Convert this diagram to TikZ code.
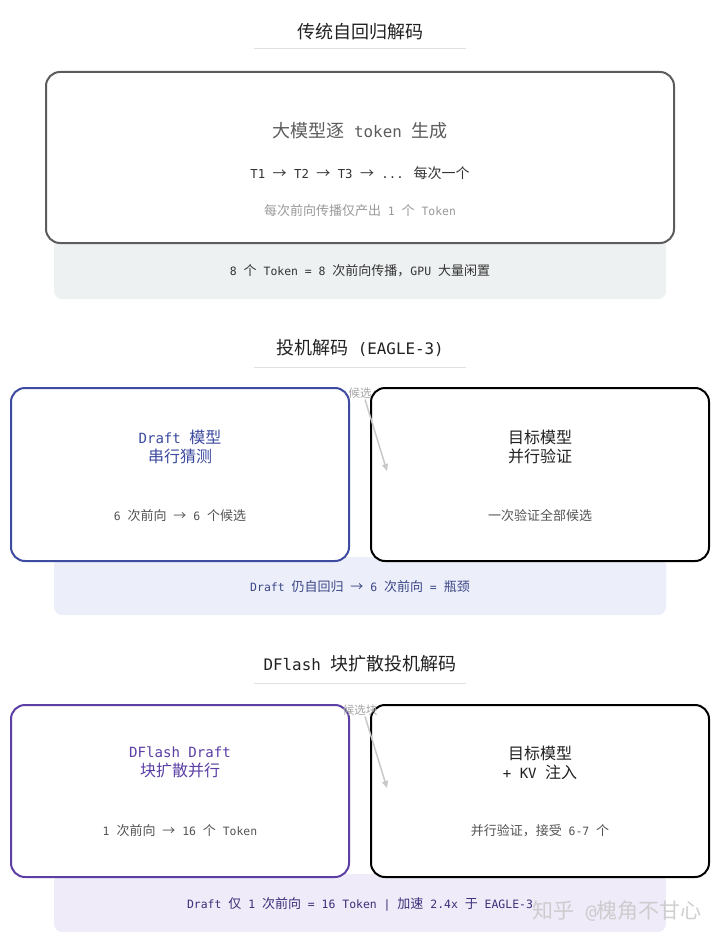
\documentclass[tikz,border=0pt]{standalone}
\usepackage{fontspec}
\usetikzlibrary{arrows.meta}
\setmainfont[Scale=0.88]{DejaVu Sans Mono}
\newfontfamily\cjkfont{Noto Sans CJK SC}
\newfontfamily\latinfont[Scale=0.88]{DejaVu Sans Mono}
% switch fonts between Han characters and Latin text
\XeTeXinterchartokenstate=1
\newXeTeXintercharclass\cjkclass
\newcount\cjkcode
\cjkcode="4E00
\loop
  \XeTeXcharclass\cjkcode=\cjkclass
  \ifnum\cjkcode<"9FFF
  \advance\cjkcode by 1
\repeat
\XeTeXcharclass"FF0C=\cjkclass
\XeTeXcharclass"3001=\cjkclass
\XeTeXcharclass"2192=\cjkclass
\XeTeXinterchartoks 0 \cjkclass = {\cjkfont}
\XeTeXinterchartoks 4095 \cjkclass = {\cjkfont}
\XeTeXinterchartoks \cjkclass 0 = {\latinfont}
\XeTeXinterchartoks \cjkclass 4095 = {\latinfont}

\definecolor{argray}{HTML}{5C5C5C}
\definecolor{draftblue}{HTML}{3D4BA0}
\definecolor{flashpurple}{HTML}{5B3FA5}
\definecolor{notegray}{HTML}{EEF1F2}
\definecolor{noteblue}{HTML}{ECEFFA}
\definecolor{notepurple}{HTML}{F0EBF8}
\definecolor{noteblueink}{HTML}{3A4685}
\definecolor{notepurpleink}{HTML}{3B2F7A}
\definecolor{rulegray}{HTML}{E0E0E0}
\definecolor{candgray}{HTML}{C8C8C8}

\tikzset{
  heading/.style={font=\fontsize{18}{22}\selectfont, text=black!87},
  rule/.style={draw=rulegray, line width=1pt},
  panel/.style={draw, line width=2pt, rounded corners=14pt, fill=white},
  note/.style={rounded corners=8pt, minimum width=612pt},
  notetext/.style={font=\fontsize{13}{16}\selectfont},
  boxtitle/.style={font=\fontsize{16}{19}\selectfont, align=center},
  boxsub/.style={font=\fontsize{13}{16}\selectfont, text=black!67},
  candlabel/.style={font=\fontsize{11.5}{14}\selectfont, text=black!35, inner sep=1pt},
  candarrow/.style={draw=candgray, line width=1.5pt, -{Triangle[length=7pt,width=6pt]}},
}

\begin{document}
\begin{tikzpicture}[x=1pt,y=-1pt]
  \useasboundingbox[fill=white] (0,0) rectangle (720,944);

  % traditional decoding
  \node[heading] (artitle) at (360,32) {传统自回归解码};
  \draw[rule] (254,49) -- (466,49);
  \node[note, fill=notegray, minimum height=70pt] (arnote) at (360,264) {};
  \node[notetext, text=black!80] (arnotetext) at (360,271) {8 个 Token = 8 次前向传播，GPU 大量闲置};
  \node[panel, draw=argray, minimum width=628pt, minimum height=171pt] (arbox) at (360,157.5) {};
  \node[font=\fontsize{18}{22}\selectfont, text=argray] (armain) at (360,131) {大模型逐 token 生成};
  \node[font=\fontsize{14}{17}\selectfont, text=black!80] (arsteps) at (360,173) {T1 → T2 → T3 → ... 每次一个};
  \node[font=\fontsize{13}{16}\selectfont, text=black!40] (arsub) at (360,211) {每次前向传播仅产出 1 个 Token};

  % EAGLE-3
  \node[heading] (eagletitle) at (360,348) {投机解码 (EAGLE-3)};
  \draw[rule] (254,367) -- (466,367);
  \node[note, fill=noteblue, minimum height=58pt] (eaglenote) at (360,586) {};
  \node[notetext, text=noteblueink] (eaglenotetext) at (360,587) {Draft 仍自回归 → 6 次前向 = 瓶颈};
  \node[panel, draw=draftblue, minimum width=338pt, minimum height=173pt] (eagledraft) at (180,474.5) {};
  \node[panel, draw=black, minimum width=338pt, minimum height=173pt] (eagletarget) at (540,474.5) {};
  \node[boxtitle, text=draftblue] (eagledrafttitle) at (180,447) {Draft 模型\\串行猜测};
  \node[boxsub] (eagledraftsub) at (180,516) {6 次前向 → 6 个候选};
  \node[boxtitle, text=black!87] (eagletargettitle) at (540,447) {目标模型\\并行验证};
  \node[boxsub] (eagletargetsub) at (540,516) {一次验证全部候选};
  \node[candlabel] (eaglecand) at (360,393) {候选};
  \coordinate (eagletip) at (387,471);
  \draw[candarrow] ([xshift=5pt]eaglecand.south) -- (eagletip);

  % DFlash
  \node[heading] (flashtitle) at (360,664) {DFlash 块扩散投机解码};
  \draw[rule] (254,683) -- (466,683);
  \node[note, fill=notepurple, minimum height=58pt] (flashnote) at (360,903) {};
  \node[notetext, text=notepurpleink] (flashnotetext) at (360,904) {Draft 仅 1 次前向 = 16 Token | 加速 2.4x 于 EAGLE-3};
  \node[panel, draw=flashpurple, minimum width=338pt, minimum height=172pt] (flashdraft) at (180,791) {};
  \node[panel, draw=black, minimum width=338pt, minimum height=172pt] (flashtarget) at (540,791) {};
  \node[boxtitle, text=flashpurple] (flashdrafttitle) at (180,762.5) {DFlash Draft\\块扩散并行};
  \node[boxsub] (flashdraftsub) at (180,831) {1 次前向 → 16 个 Token};
  \node[boxtitle, text=black!87] (flashtargettitle) at (540,762.5) {目标模型\\+ KV 注入};
  \node[boxsub] (flashtargetsub) at (540,831) {并行验证，接受 6-7 个};
  \node[candlabel] (flashcand) at (360,710) {候选块};
  \coordinate (flashtip) at (387,788);
  \draw[candarrow] ([xshift=5pt]flashcand.south) -- (flashtip);

  \node[font=\fontsize{21}{25}\selectfont, text=black!22, opacity=0.85] (mark) at (617,911) {知乎 @槐角不甘心};
\end{tikzpicture}
\end{document}
